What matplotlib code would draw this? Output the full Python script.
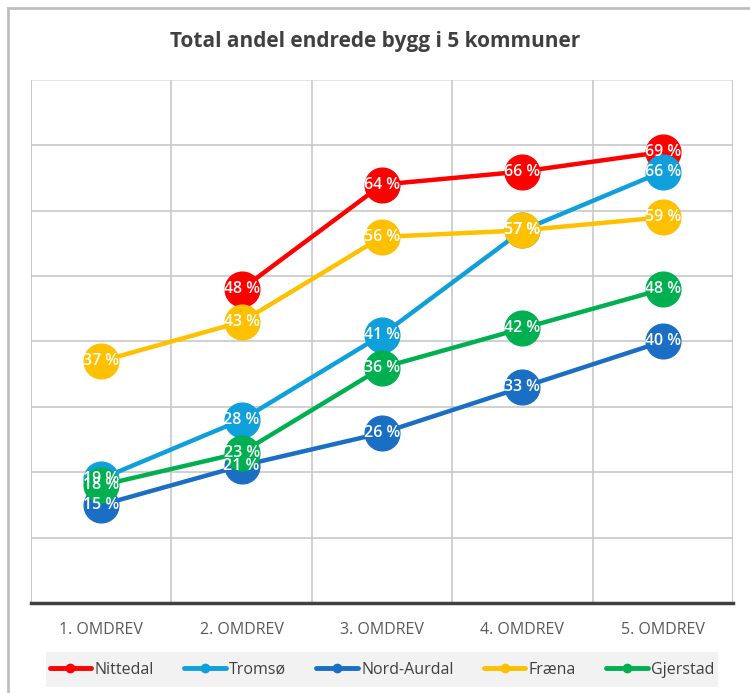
import matplotlib
matplotlib.use("Agg")
import matplotlib.pyplot as plt
from matplotlib.patches import Rectangle
from matplotlib.lines import Line2D
import numpy as np

categories = ["1. OMDREV", "2. OMDREV", "3. OMDREV", "4. OMDREV", "5. OMDREV"]
series_names = ["Nittedal", "Tromsø", "Nord-Aurdal", "Fræna", "Gjerstad"]
nittedal = [None, 48, 64, 66, 69]
tromso = [19, 28, 41, 57, 66]
nord_aurdal = [15, 21, 26, 33, 40]
fraena = [37, 43, 56, 57, 59]
gjerstad = [18, 23, 36, 42, 48]
title = "Total andel endrede bygg i 5 kommuner"

colors = ["#FF0000", "#0FA0DB", "#1A6FC4", "#FFC000", "#00B050"]
all_series = [nittedal, tromso, nord_aurdal, fraena, gjerstad]

W, H = 750, 693
fig = plt.figure(figsize=(W / 100, H / 100), dpi=100)
fig.patch.set_facecolor("white")

# outer chart border
fig.add_artist(Line2D([8 / W, 8 / W], [0, 1 - 8 / H], color="#bfbfbf", lw=2, transform=fig.transFigure))
fig.add_artist(Line2D([8 / W, 1], [1 - 8 / H, 1 - 8 / H], color="#bfbfbf", lw=2, transform=fig.transFigure))

left, right, top, bottom = 31, 733, 80, 603
ax = fig.add_axes([left / W, 1 - bottom / H, (right - left) / W, (bottom - top) / H])
ax.set_xlim(-0.5, 4.5)
ax.set_ylim(0, 80)
ax.set_yticks(np.arange(10, 81, 10))
ax.set_yticklabels([])
ax.tick_params(left=False, bottom=False, colors="#595959", pad=10)
ax.set_xticks(range(5))
ax.set_xticklabels(categories, fontfamily="Open Sans", fontsize=11.5, color="#595959")
for y in np.arange(10, 81, 10):
    ax.axhline(y, color="#c8c8c8" if y < 80 else "#e0e0e0", lw=1.2, zorder=0)
for x in np.arange(-0.5, 4.6, 1):
    ax.axvline(x, color="#c8c8c8" if 0 < x < 4 else "#bfbfbf", lw=1.2, zorder=0)
for s in ["top", "left", "right"]:
    ax.spines[s].set_visible(False)
ax.spines["bottom"].set_color("#404040")
ax.spines["bottom"].set_linewidth(2.5)

for i, (vals, col, name) in enumerate(zip(all_series, colors, series_names)):
    xs = [j for j, v in enumerate(vals) if v is not None]
    ys = [v for v in vals if v is not None]
    ax.plot(xs, ys, color=col, lw=3.2, marker="o", markersize=25, markerfacecolor=col,
            markeredgecolor=col, solid_capstyle="round", zorder=2 + i, label=name, clip_on=False)

for vals in all_series:
    for j, v in enumerate(vals):
        if v is None:
            continue
        ax.text(j, v, f"{v} %", ha="center", va="center", color="white", fontsize=11.5,
                fontweight="semibold", fontfamily="Open Sans", zorder=20)

fig.text(0.5, 1 - 42 / H, title, ha="center", va="center", fontsize=15,
         fontweight="bold", color="#404040", fontfamily="Open Sans")

# legend
fig.add_artist(Rectangle((46 / W, 1 - 687 / H), (718 - 46) / W, (687 - 652) / H,
                         transform=fig.transFigure, facecolor="#f2f2f2", edgecolor="none", zorder=0))
handles = [Line2D([0], [0], color=c, lw=3.5, marker="o", markersize=6, solid_capstyle="round")
           for c in colors]
leg = fig.legend(handles, series_names, loc="center", bbox_to_anchor=(382 / W, 1 - 670 / H),
                 ncol=5, frameon=False, handlelength=2.6, handletextpad=0.2,
                 columnspacing=1.9, prop={"family": "Open Sans", "size": 11.5})
for t in leg.get_texts():
    t.set_color("#404040")

fig.savefig("out.png", dpi=100)
